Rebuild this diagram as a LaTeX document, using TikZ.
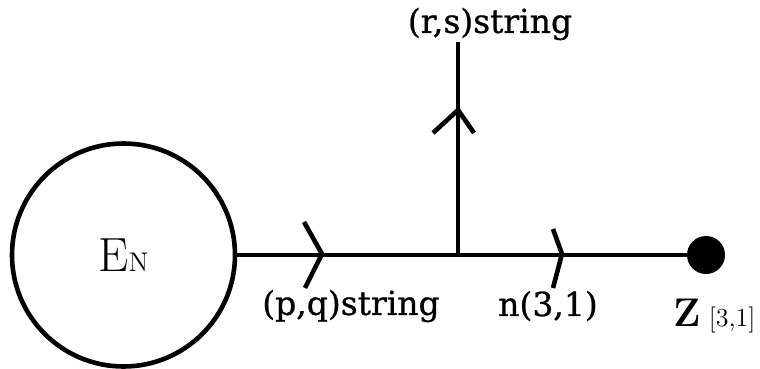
\documentclass[tikz,border=0pt]{standalone}
\usepackage{fontspec}
\newfontfamily\labelfont[FakeBold=0.8]{DejaVu Serif}
\begin{document}
\begin{tikzpicture}[x=0.5pt, y=-0.5pt, line width=2.3pt]
			\useasboundingbox (0,0) rectangle (760,369);
			\tikzstyle{lbl}=[inner sep=0pt, font=\labelfont\fontsize{16.5}{19}\selectfont]
			\tikzstyle{blob}=[circle, fill=black, inner sep=0pt, minimum size=19pt]
			\coordinate (J) at (458,255);
			\coordinate (T) at (458,42);
			\node[draw, circle, inner sep=0pt, minimum size=111.5pt] (EN) at (123.5,255) {\fontsize{24}{28}\selectfont E\fontsize{13.5}{16}\selectfont N\hspace{5pt}};
			\node[blob] (Z) at (706,255) {};
			\draw (EN.east) -- (Z.center);
			\draw (J) -- (T);
			% direction marks on the strings
			\coordinate (A1) at (322,254);
			\coordinate (A2) at (562,254);
			\coordinate (A3) at (458,110);
			\draw (A1) ++(-18,-32) -- (A1) -- ++(-17,34);
			\draw (A2) ++(-9,-25) -- (A2) -- ++(-9,34);
			\draw (A3) ++(-25,23) -- (A3) -- ++(16,23);
			\node[lbl] (rs) at (490,24) {(r,s)string};
			\node[lbl] (pq) at (351,306) {(p,q)string};
			\node[lbl] (n31) at (548,306) {n(3,1)};
			\node[inner sep=0pt, anchor=base west] (Zlbl) at (671,326) {\fontsize{20}{24}\selectfont\bfseries Z\hspace{4pt}\mdseries\fontsize{13}{15}\selectfont[3,1]};
		\end{tikzpicture}
\end{document}
